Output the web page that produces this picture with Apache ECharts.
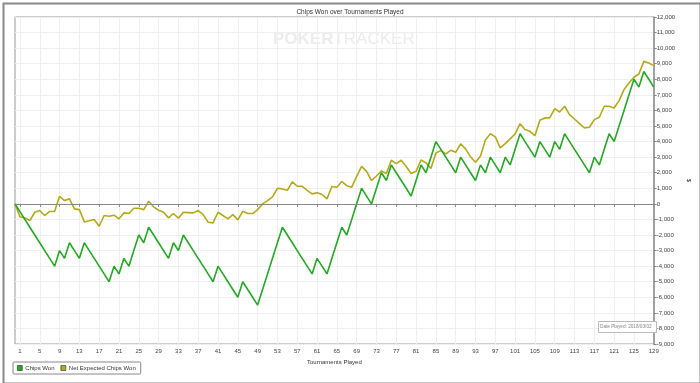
<!DOCTYPE html>
<html>
<head>
<meta charset="utf-8">
<script src="https://cdn.jsdelivr.net/npm/echarts@6/dist/echarts.min.js"></script>
<style>html,body{margin:0;padding:0;background:#fff;}#c{width:700px;height:383px;}</style>
</head>
<body>
<div id="c"></div>
<script>
const categories = ["0","1","2","3","4","5","6","7","8","9","10","11","12","13","14","15","16","17","18","19","20","21","22","23","24","25","26","27","28","29","30","31","32","33","34","35","36","37","38","39","40","41","42","43","44","45","46","47","48","49","50","51","52","53","54","55","56","57","58","59","60","61","62","63","64","65","66","67","68","69","70","71","72","73","74","75","76","77","78","79","80","81","82","83","84","85","86","87","88","89","90","91","92","93","94","95","96","97","98","99","100","101","102","103","104","105","106","107","108","109","110","111","112","113","114","115","116","117","118","119","120","121","122","123","124","125","126","127","128","129"];

const chipsWon = [0,-500,-1000,-1500,-2000,-2500,-3000,-3500,-4000,-3000,
-3500,-2500,-3000,-3500,-2500,-3000,-3500,-4000,-4500,-5000,
-4000,-4500,-3500,-4000,-3000,-2000,-2500,-1500,-2000,-2500,
-3000,-3500,-2500,-3000,-2000,-2500,-3000,-3500,-4000,-4500,
-5000,-4000,-4500,-5000,-5500,-6000,-5000,-5500,-6000,-6500,
-5500,-4500,-3500,-2500,-1500,-2000,-2500,-3000,-3500,-4000,
-4500,-3500,-4000,-4500,-3500,-2500,-1500,-2000,-1000,0,
1000,500,0,1000,2000,1500,2500,2000,1500,1000,
500,1500,2500,2000,3000,4000,3500,3000,2500,2000,
3000,2500,2000,1500,2500,2000,3000,2500,2000,3000,
2500,3500,4500,4000,3500,3000,4000,3500,3000,4000,
3500,4500,4000,3500,3000,2500,2000,3000,2500,3500,
4500,4000,5000,6000,7000,8000,7500,8500,8000,7500];

const netExpected = [0,-830,-900,-1070,-540,-430,-750,-490,-490,490,
210,320,-320,-370,-1160,-1090,-1010,-1440,-750,-800,
-730,-960,-580,-620,-280,-280,-370,170,-190,-410,
-540,-900,-620,-920,-540,-560,-580,-430,-690,-1180,
-1220,-540,-750,-960,-690,-1030,-480,-620,-620,-370,
0,210,450,1000,960,870,1410,1130,1130,870,
640,710,600,320,1110,1070,1430,1170,1070,1770,
2410,2090,1500,1790,2120,1950,2800,2580,2800,2400,
1950,2090,2820,2630,2270,3270,3420,3210,3440,3310,
3850,3530,3020,2670,3060,4100,4500,4300,3590,3870,
4170,4490,5150,4770,4660,4380,5370,5520,5520,6120,
5900,6270,5730,5450,5150,4880,4920,5410,5560,6270,
6270,6160,6630,7340,7760,8130,8340,9150,9050,8880];

const seriesNames = ["Chips Won", "Net Expected Chips Won"];
const titleText = "Chips Won over Tournaments Played";
const xAxisName = "Tournaments Played";
const yAxisName = "$";
const dateText = "Date Played: 2018/03/02";

const FONT = "Liberation Sans";
const chart = echarts.init(document.getElementById('c'), null, {renderer: 'canvas'});
const showTick = (i) => (i - 1) % 4 === 0;

chart.setOption({
  animation: false,
  backgroundColor: '#ffffff',
  title: {
    text: titleText, left: 'center', top: 4,
    textStyle: {fontSize: 6.5, fontWeight: 'normal', color: '#333', fontFamily: FONT}
  },
  legend: {
    left: 13, top: 362, orient: 'horizontal',
    padding: [3, 5, 3, 4], itemGap: 6, itemWidth: 5, itemHeight: 5,
    borderColor: '#888', borderWidth: 1, borderRadius: 1,
    icon: 'rect',
    itemStyle: {borderColor: '#333', borderWidth: 0.6},
    textStyle: {fontSize: 6, color: '#333', fontFamily: FONT, padding: [0,0,0,-2]},
    data: seriesNames
  },
  grid: {left: 15, right: 39, top: 17, bottom: 39, show: true, borderColor: '#9a9a9a', borderWidth: 1},
  xAxis: {
    type: 'category', data: categories, boundaryGap: false,
    name: xAxisName, nameLocation: 'middle', nameGap: 11,
    nameTextStyle: {fontSize: 6, color: '#333', fontFamily: FONT},
    axisLine: {lineStyle: {color: '#888'}},
    axisTick: {show: true, interval: showTick, length: 3, lineStyle: {color: '#888'}},
    axisLabel: {interval: showTick, fontSize: 6, color: '#444', margin: 4, fontFamily: FONT},
    splitLine: {show: true, interval: showTick, lineStyle: {color: '#efefef'}}
  },
  yAxis: {
    type: 'value', position: 'right', min: -9000, max: 12000, interval: 1000,
    name: yAxisName, nameLocation: 'middle', nameGap: 24, nameRotate: -90,
    nameTextStyle: {fontSize: 6, color: '#333', fontFamily: FONT},
    axisLine: {show: true, lineStyle: {color: '#888', width: 1.5}},
    axisTick: {show: true, length: 3, lineStyle: {color: '#888'}},
    axisLabel: {fontSize: 6, color: '#444', margin: 3, fontFamily: FONT,
      formatter: (v) => v.toLocaleString('en-US')},
    splitLine: {show: true, lineStyle: {color: '#efefef'}}
  },
  graphic: [
    {type: 'rect', left: 1, top: 1, shape: {width: 697, height: 380},
     style: {fill: 'none', stroke: '#8a8a8a', lineWidth: 2}, silent: true, z: 100},
    {type: 'text', left: 273, top: 31, z: 0, silent: true,
     style: {text: '{a|POKER}{b|TRACKER}', rich: {
       a: {fontSize: 17, fontWeight: 'bold', fill: '#ececec', fontFamily: FONT},
       b: {fontSize: 17, fill: '#ececec', fontFamily: FONT}
     }}},
    {type: 'rect', left: 598, top: 321, z: 50, silent: true,
     shape: {width: 58, height: 11},
     style: {fill: '#fff', stroke: '#bbb', lineWidth: 1}},
    {type: 'text', left: 600, top: 324, z: 51, silent: true,
     style: {text: dateText, fontSize: 4.7, fill: '#888', fontFamily: FONT}}
  ],
  series: [
    {
      name: seriesNames[0], type: 'line', data: chipsWon,
      symbol: 'none', z: 3,
      lineStyle: {color: '#22aa22', width: 1.6},
      itemStyle: {color: '#22aa22'},
      markLine: {silent: true, symbol: 'none', label: {show: false},
        lineStyle: {color: '#888', width: 1, type: 'solid'},
        data: [{yAxis: 0}]}
    },
    {
      name: seriesNames[1], type: 'line', data: netExpected,
      symbol: 'none', z: 2,
      lineStyle: {color: '#b3aa17', width: 1.6},
      itemStyle: {color: '#b3aa17'}
    }
  ]
});
</script>
</body>
</html>
